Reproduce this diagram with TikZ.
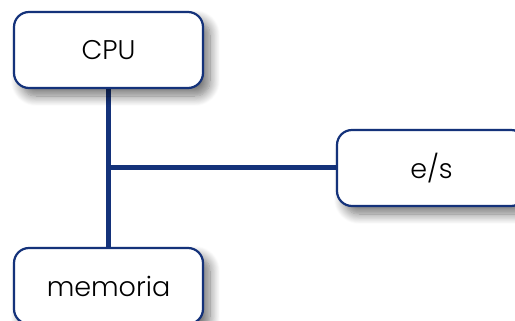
\documentclass[tikz,border=0pt]{standalone}
\usepackage{fontspec}
\setmainfont{Poppins}[UprightFont=* Light]
\usetikzlibrary{shadows.blur,backgrounds}
\definecolor{navy}{RGB}{20,50,122}
\tikzset{
  unit/.style={draw=navy, line width=2.2pt, fill=white, rounded corners=15pt,
    minimum width=189pt, minimum height=76pt, inner sep=0pt,
    font=\fontsize{27}{32}\selectfont,
    blur shadow={shadow xshift=7pt, shadow yshift=-8pt, shadow blur steps=12, shadow blur radius=10pt, shadow opacity=55}},
  bus/.style={draw=navy, line width=5pt}
}
\begin{document}
\begin{tikzpicture}[x=1pt, y=-1pt]
  \useasboundingbox (0,0) rectangle (515,321);
  % system units
  \node[unit] (cpu) at (108.5,50) {CPU};
  \node[unit] (es) at (431.5,168) {e/s};
  \node[unit] (mem) at (108.5,286) {memoria};
  % bus wiring, kept behind the units
  \coordinate (j) at (cpu.south |- es.west);
  \begin{scope}[on background layer]
    \draw[bus] (cpu.south) -- (mem.north);
    \draw[bus] (j) -- (es.west);
  \end{scope}
\end{tikzpicture}
\end{document}
